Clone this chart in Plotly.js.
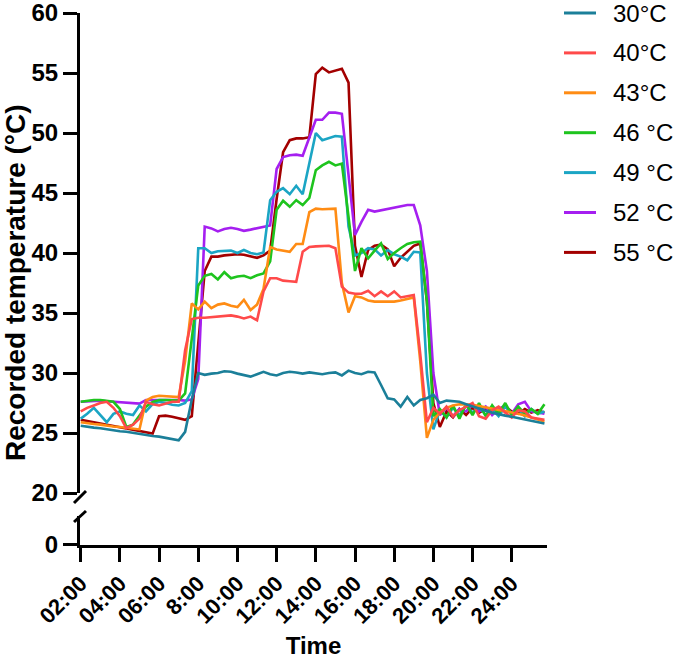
<!DOCTYPE html>
<html>
<head>
<meta charset="utf-8">
<script src="https://cdn.plot.ly/plotly-3.0.1.min.js"></script>
<style>
  html, body { margin: 0; padding: 0; background: #fff; }
  #chart { width: 679px; height: 659px; }
</style>
</head>
<body>
<div id="chart"></div>
<script>
// Sampling times in hours (20-minute readings, 02:00 to 25:40)
const times = [2.00,2.33,2.67,3.00,3.33,3.67,4.00,4.33,4.67,5.00,5.33,5.67,6.00,6.33,6.67,7.00,7.33,7.67,
  8.00,8.33,8.67,9.00,9.33,9.67,10.00,10.33,10.67,11.00,11.33,11.67,12.00,12.33,12.67,13.00,13.33,13.67,
  14.00,14.33,14.67,15.00,15.33,15.67,16.00,16.33,16.67,17.00,17.33,17.67,18.00,18.33,18.67,19.00,19.33,19.67,
  20.00,20.33,20.67,21.00,21.33,21.67,22.00,22.33,22.67,23.00,23.33,23.67,24.00,24.33,24.67,25.00,25.33,25.67];

// Recorded temperatures (°C) for each set point
const temp30 = [25.6,25.5,25.45,25.4,25.3,25.2,25.15,25.1,25.0,24.95,24.85,24.75,24.7,24.6,24.5,24.4,
  25.1,27.8,30.0,29.85,29.95,30.0,30.15,30.1,29.95,29.85,29.7,29.9,30.1,29.9,29.8,30.0,30.1,30.05,29.95,30.05,
  30.0,29.9,30.0,30.05,29.8,30.2,30.0,29.9,30.1,30.05,29.0,27.9,27.8,27.2,28.0,27.3,27.75,27.9,
  28.2,27.5,27.7,27.65,27.6,27.4,27.2,27.05,26.85,26.7,26.55,26.45,26.35,26.25,26.1,26.0,25.9,25.8];
const temp40 = [26.8,27.1,27.3,27.5,27.6,27.1,26.4,25.4,25.7,26.2,27.6,27.4,27.3,27.45,27.6,27.6,
  31.9,34.5,34.6,34.6,34.65,34.7,34.75,34.8,34.7,34.55,34.7,34.4,36.8,37.9,37.9,37.7,37.65,37.6,40.1,40.5,
  40.55,40.6,40.6,40.4,37.2,36.7,36.6,36.6,36.85,36.4,36.8,36.4,36.8,36.3,36.4,36.5,31.6,25.9,
  27.1,26.6,27.2,26.4,26.9,27.2,27.5,26.4,26.2,26.9,27.2,26.7,26.3,26.9,26.8,26.3,26.2,26.1];
const temp43 = [25.9,25.8,25.75,25.7,25.6,25.55,25.5,25.45,25.4,25.3,27.7,28.0,28.1,28.05,28.0,28.0,
  31.0,35.8,35.3,35.95,35.4,35.7,35.8,35.6,35.5,36.1,35.25,35.7,37.0,40.5,40.3,40.2,40.1,40.75,40.75,43.4,
  43.7,43.65,43.7,43.7,37.5,35.05,36.4,36.3,36.05,35.95,35.95,35.95,35.95,36.05,36.15,36.3,31.0,24.6,
  26.1,26.7,27.1,27.3,27.4,27.4,27.35,27.25,27.15,27.05,26.95,26.85,26.7,26.6,26.45,26.3,26.1,25.95];
const temp46 = [27.6,27.7,27.75,27.75,27.7,27.6,27.0,25.5,25.7,26.5,27.2,27.6,27.75,27.75,27.75,27.7,
  28.3,33.0,37.3,38.1,38.25,37.8,38.4,37.9,38.05,38.1,37.9,38.15,38.3,39.3,43.6,44.35,43.85,44.4,44.0,44.6,
  46.9,47.3,47.6,47.3,47.45,43.0,38.5,40.4,39.55,40.2,40.8,39.5,40.0,40.4,40.75,40.9,40.95,36.0,
  26.4,27.0,26.3,27.3,26.2,27.4,26.5,27.5,26.4,27.3,26.6,27.5,26.5,27.2,26.6,27.0,26.6,27.4];
const temp49 = [26.2,26.6,27.1,26.5,25.9,26.6,26.8,26.6,26.5,27.3,26.8,27.4,27.6,27.5,27.35,27.3,
  27.5,28.5,40.4,40.4,40.0,40.15,40.2,40.2,40.0,40.25,40.0,39.9,40.05,44.4,45.1,45.4,44.9,45.6,44.9,47.5,
  50.0,49.4,49.6,49.75,49.7,42.2,39.8,40.0,40.4,40.3,39.8,40.25,39.9,39.7,39.4,40.1,40.05,30.0,
  25.3,26.9,26.3,27.1,26.5,27.3,26.7,27.2,26.5,27.0,26.4,27.2,26.6,27.0,26.4,27.0,26.6,26.8];
const temp52 = [27.6,27.65,27.7,27.7,27.65,27.6,27.55,27.5,27.5,27.45,27.75,27.75,27.8,27.75,27.75,27.75,
  27.7,27.8,29.5,42.2,42.05,41.8,42.0,42.1,42.0,41.85,41.95,42.05,42.2,42.3,47.0,48.0,48.15,48.2,48.1,49.7,
  51.1,51.1,51.7,51.7,51.6,46.5,41.5,42.6,43.6,43.45,43.55,43.7,43.8,43.9,44.0,44.0,42.3,38.5,
  30.0,26.5,27.1,26.4,27.0,26.8,27.4,26.8,27.2,26.5,27.0,27.3,26.6,27.4,27.6,26.8,26.7,26.6];
const temp55 = [26.1,26.0,25.9,25.8,25.7,25.6,25.5,25.4,25.3,25.2,25.05,24.95,26.4,26.45,26.35,26.25,
  26.1,26.4,32.5,38.5,39.7,39.7,39.8,39.85,39.9,39.85,39.75,39.6,39.8,40.2,44.5,48.4,49.4,49.55,49.55,49.65,
  54.9,55.45,55.05,55.2,55.35,54.2,40.6,38.0,40.25,40.6,40.7,40.3,38.9,39.6,40.1,40.6,40.8,36.0,
  27.5,25.5,26.8,26.3,27.0,26.5,27.1,26.7,27.0,26.6,26.9,27.2,26.8,26.6,27.0,26.7,26.9,26.7];

const seriesNames = ['30°C', '40°C', '43°C', '46 °C', '49 °C', '52 °C', '55 °C'];
const seriesColors = ['#1b7f99', '#ff4a4a', '#ff8c14', '#1ec41e', '#1ba5c4', '#a51ff0', '#a30000'];
const seriesValues = [temp30, temp40, temp43, temp46, temp49, temp52, temp55];

const tickHours = [2, 4, 6, 8, 10, 12, 14, 16, 18, 20, 22, 24];
const tickLabels = ['02:00', '04:00', '06:00', '8:00', '10:00', '12:00', '14:00', '16:00', '18:00', '20:00', '22:00', '24:00'];

const FONT = '"Liberation Sans", Arial, Helvetica, sans-serif';

// plot-area geometry in pixels (used to place the key beside the plot)
const PLOT = { left: 80, right: 547, top: 13, bottom: 545 };
const px2paperX = px => (px - PLOT.left) / (PLOT.right - PLOT.left);
const px2paperY = py => (PLOT.bottom - py) / (PLOT.bottom - PLOT.top);

// Cooler set points are drawn last so they sit on top.
const traces = [];
for (let k = seriesNames.length - 1; k >= 0; k--) {
  traces.push({
    type: 'scatter', mode: 'lines',
    x: times, y: seriesValues[k],
    name: seriesNames[k],
    line: { color: seriesColors[k], width: 2.6 },
    hoverinfo: 'skip'
  });
}
// empty trace so the short lower segment of the broken y axis is drawn
traces.push({ type: 'scatter', mode: 'lines', x: [], y: [], yaxis: 'y2', showlegend: false, hoverinfo: 'skip' });

// key: a short line swatch and a label per series, stacked down the right side
const keyShapes = [], keyLabels = [];
seriesNames.forEach((name, k) => {
  const yk = px2paperY(13 + 39.9 * k);
  keyShapes.push({ type: 'line', xref: 'paper', yref: 'paper',
    x0: px2paperX(564), x1: px2paperX(596), y0: yk, y1: yk,
    line: { color: seriesColors[k], width: 3 } });
  keyLabels.push({ text: name, xref: 'paper', yref: 'paper', x: px2paperX(611), y: yk,
    xanchor: 'left', yanchor: 'middle', showarrow: false,
    font: { family: FONT, size: 24, color: '#000' } });
});

const axisCommon = {
  showline: true, linecolor: '#000', linewidth: 3,
  ticks: 'outside', ticklen: 14, tickwidth: 3, tickcolor: '#000',
  showgrid: false, zeroline: false, automargin: false,
  ticklabeloverflow: 'allow',
  tickfont: { family: FONT, size: 24, color: '#000', weight: 'bold' }
};

const layout = {
  width: 679, height: 659,
  margin: { l: 80, r: 132, t: 13, b: 114, autoexpand: false },
  paper_bgcolor: '#fff', plot_bgcolor: '#fff',
  showlegend: false,
  font: { family: FONT, color: '#000' },
  xaxis: Object.assign({}, axisCommon, {
    anchor: 'y2', range: [1.964, 25.8],
    tickmode: 'array', tickvals: tickHours, ticktext: tickLabels, tickangle: -45,
    tickfont: { family: FONT, size: 22, color: '#000', weight: 'bold' },
    title: { text: 'Time', font: { family: FONT, size: 24, color: '#000', weight: 'bold' }, standoff: 24 }
  }),
  yaxis: Object.assign({}, axisCommon, {
    anchor: 'x', domain: [0.0977, 1], range: [20, 60],
    tickmode: 'array', tickvals: [20, 25, 30, 35, 40, 45, 50, 55, 60]
  }),
  yaxis2: Object.assign({}, axisCommon, {
    anchor: 'x', domain: [0, 0.0545], range: [0, 2.4],
    tickmode: 'array', tickvals: [0]
  }),
  annotations: [{
    text: 'Recorded temperature (°C)', textangle: -90,
    xref: 'paper', yref: 'paper', x: -0.137, y: 0.4925,
    xanchor: 'center', yanchor: 'middle', showarrow: false,
    font: { family: FONT, size: 28, color: '#000', weight: 'bold' }
  }].concat(keyLabels),
  // axis-break marks between the 0 and 20 segments, then the key swatches
  shapes: [
    { type: 'line', xref: 'paper', yref: 'paper', x0: -0.0128, y0: 0.0790, x1: 0.0128, y1: 0.1015, line: { color: '#000', width: 3 } },
    { type: 'line', xref: 'paper', yref: 'paper', x0: -0.0128, y0: 0.0432, x1: 0.0128, y1: 0.0639, line: { color: '#000', width: 3 } }
  ].concat(keyShapes)
};

Plotly.newPlot('chart', traces, layout, { staticPlot: true, displayModeBar: false });
</script>
</body>
</html>
